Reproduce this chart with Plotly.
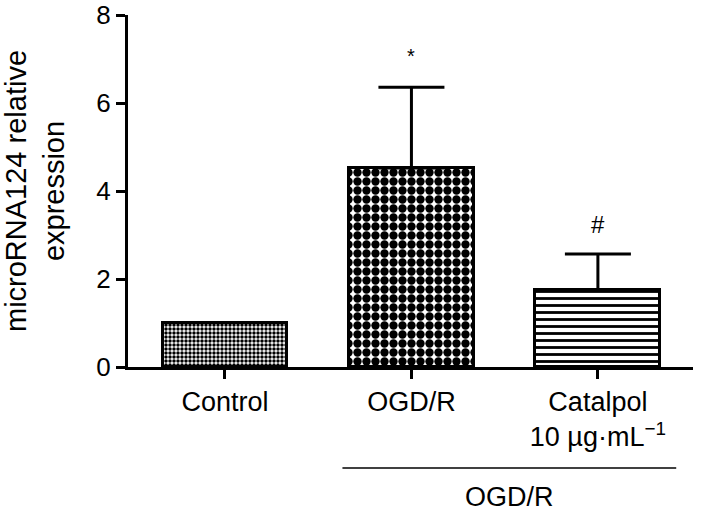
import plotly.graph_objects as go

categories = ["Control", "OGD/R", "Catalpol<br>10 µg·mL<sup>−1</sup>"]
means = [1.0, 4.52, 1.75]
errors = [0.0, 1.84, 0.82]
marks = ["", "*", "#"]
y_ticks = [0, 2, 4, 6, 8]
group_label = "OGD/R"

x_pos = [0, 1, 2]
font_family = "Liberation Sans, Arial, Helvetica, sans-serif"

patterns = [
    dict(shape=".", size=4, solidity=0.6, fgcolor="black", bgcolor="white", fgopacity=1),
    dict(shape=".", size=9, solidity=0.68, fgcolor="black", bgcolor="white", fgopacity=1),
    dict(shape="-", size=7, solidity=0.4, fgcolor="black", bgcolor="white", fgopacity=1),
]

fig = go.Figure()
for i in range(3):
    fig.add_trace(go.Bar(
        x=[x_pos[i]], y=[means[i]], width=0.67,
        marker=dict(color="white", line=dict(color="black", width=3), pattern=patterns[i]),
        error_y=dict(type="data", symmetric=False, array=[errors[i]], arrayminus=[0],
                     color="black", thickness=3, width=33, visible=errors[i] > 0),
        showlegend=False,
    ))

for i in range(3):
    if marks[i]:
        fig.add_annotation(x=x_pos[i], y=means[i] + errors[i], text=marks[i],
                           showarrow=False, yanchor="bottom", yshift=18 if marks[i] == "*" else 14,
                           font=dict(size=20 if marks[i] == "*" else 24, color="black", family=font_family))

# group bracket
fig.add_shape(type="line", xref="x", yref="paper", x0=0.63, x1=2.42, y0=-0.287, y1=-0.287,
              line=dict(color="black", width=1.5))
fig.add_annotation(x=(0.63 + 2.42) / 2, xref="x", y=-0.418, yref="paper", text=group_label,
                   showarrow=False, font=dict(size=27, color="black", family=font_family))

fig.update_layout(
    width=702, height=512,
    margin=dict(l=128, r=9, t=15, b=145),
    paper_bgcolor="white", plot_bgcolor="white",
    font=dict(family=font_family, size=27, color="black"),
    bargap=0,
)
fig.update_xaxes(
    range=[-0.52, 2.51], tickvals=x_pos, ticktext=categories,
    showline=True, linecolor="black", linewidth=2.5,
    ticks="outside", ticklen=9, tickwidth=2.5, tickcolor="black",
    showgrid=False, zeroline=False, tickfont=dict(size=27), automargin=False,
    ticklabeloverflow="allow",
)
fig.update_yaxes(
    range=[0, 8], tickvals=y_ticks,
    showline=True, linecolor="black", linewidth=3,
    ticks="outside", ticklen=9, tickwidth=2.5, tickcolor="black",
    showgrid=False, zeroline=False, tickfont=dict(size=26), automargin=False,
    ticklabeloverflow="allow",
    title=dict(text="microRNA124 relative<br>expression", font=dict(size=29), standoff=41),
)

fig.write_html("out.html", config={"displayModeBar": False},
               post_script="document.body.style.margin='0';")
